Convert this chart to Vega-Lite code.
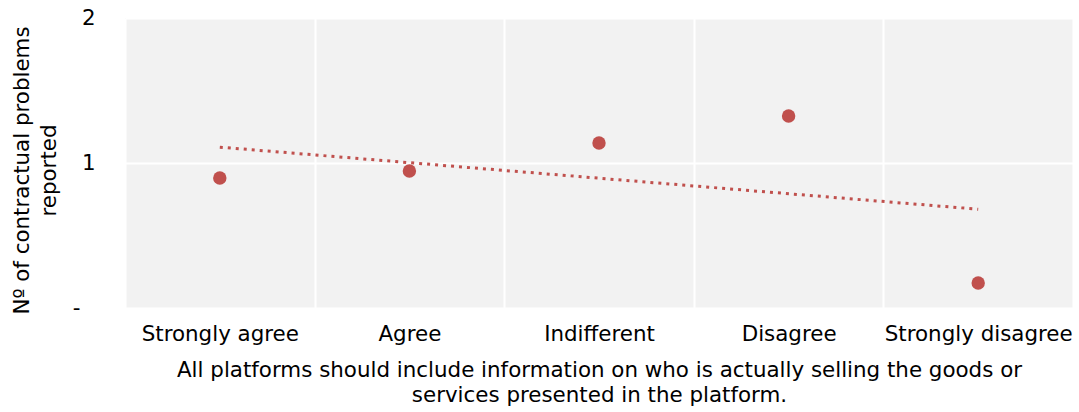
{
  "$schema": "https://vega.github.io/schema/vega-lite/v6.json",
  "width": 948,
  "height": 290,
  "autosize": {"type": "none"},
  "padding": {"left": 125, "top": 18, "right": 6, "bottom": 104},
  "config": {
    "font": "DejaVu Sans",
    "view": {"fill": "#f2f2f2", "stroke": null},
    "axis": {
      "domain": false,
      "ticks": false,
      "gridColor": "#ffffff",
      "gridWidth": 2,
      "gridOpacity": 1,
      "labelFontSize": 21.4,
      "labelColor": "#000000",
      "labelLimit": 0,
      "titleFontSize": 21.4,
      "titleFontWeight": "normal",
      "titleColor": "#000000",
      "titleLineHeight": 25
    }
  },
  "data": {
    "values": [
      {"response": "Strongly agree", "i": 0, "problems": 0.897},
      {"response": "Agree", "i": 1, "problems": 0.945},
      {"response": "Indifferent", "i": 2, "problems": 1.138},
      {"response": "Disagree", "i": 3, "problems": 1.324},
      {"response": "Strongly disagree", "i": 4, "problems": 0.172}
    ]
  },
  "layer": [
    {
      "mark": {"type": "circle", "size": 180, "color": "#c0504d", "opacity": 1},
      "encoding": {
        "x": {
          "field": "response",
          "type": "nominal",
          "sort": ["Strongly agree", "Agree", "Indifferent", "Disagree", "Strongly disagree"],
          "scale": {"type": "band", "paddingInner": 0, "paddingOuter": 0},
          "axis": {
            "grid": true,
            "tickBand": "extent",
            "labelAngle": 0,
            "labelPadding": 15,
            "labelLimit": 0,
            "title": ["All platforms should include information on who is actually selling the goods or", "services presented in the platform."],
            "titleY": 51
          }
        },
        "y": {
          "field": "problems",
          "type": "quantitative",
          "scale": {"domain": [0, 2], "nice": false},
          "axis": {
            "values": [0, 1, 2],
            "grid": true,
            "labelPadding": {"condition": {"test": "datum.value == 0", "value": 45}, "value": 30},
            "labelExpr": "datum.value == 0 ? '-' : format(datum.value, 'd')",
            "title": ["Nº of contractual problems", "reported"],
            "titleLineHeight": 27,
            "titleX": -93,
            "titleY": 152
          }
        }
      }
    },
    {
      "transform": [{"regression": "problems", "on": "i"}],
      "mark": {"type": "line", "color": "#c0504d", "strokeWidth": 3, "strokeDash": [3, 5]},
      "encoding": {
        "x": {
          "field": "i",
          "type": "quantitative",
          "scale": {"domain": [-0.5, 4.5], "nice": false, "zero": false},
          "axis": null
        },
        "y": {"field": "problems", "type": "quantitative"}
      }
    }
  ],
  "resolve": {"scale": {"x": "independent"}}
}
